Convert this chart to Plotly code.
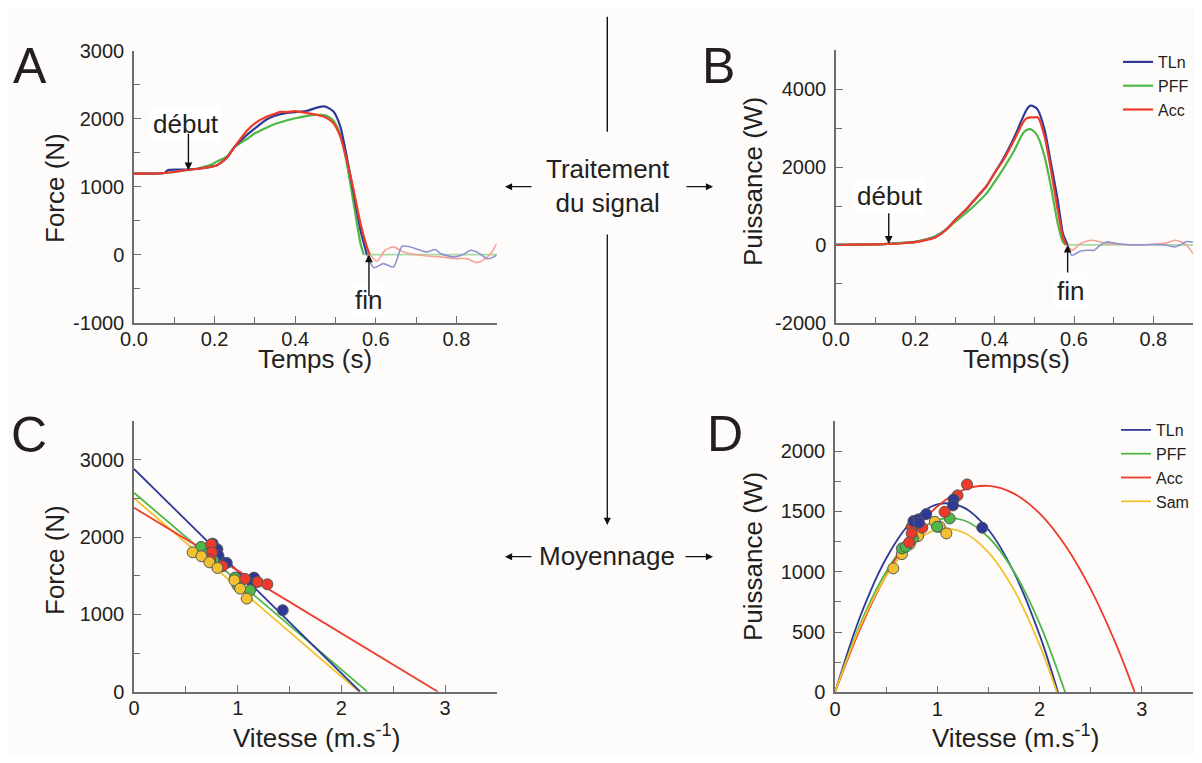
import plotly.graph_objects as go

# The page body adds an 8 px margin on every side; keep the figure inside the window.
OFF = 8
W, H = 1202 - 2 * OFF, 763 - 2 * OFF
FONT = "Liberation Sans, Arial, sans-serif"
TXT = "#231f20"
AXC = "#6d6e71"

C_TLN = "#2e3a96"
C_PFF = "#4fb847"
C_ACC = "#ee3a2a"
C_SAM = "#f4c12e"
F_TLN = "#8f93d2"
F_PFF = "#a8dba2"
F_ACC = "#f6a297"

# ---------------- Panel A : Force vs time ----------------
A_t_tln = [0.0, 0.05, 0.075, 0.085, 0.12, 0.135, 0.16, 0.19, 0.205, 0.23, 0.25, 0.28, 0.3, 0.33, 0.35, 0.38, 0.4, 0.43,
           0.454, 0.475, 0.495, 0.512, 0.528, 0.545, 0.562, 0.578]
A_f_tln = [1190, 1192, 1200, 1245, 1250, 1250, 1262, 1290, 1310, 1420, 1587, 1760, 1857, 1990, 2044, 2085, 2095, 2115,
           2162, 2177, 2103, 1882, 1440, 900, 359, 0]
A_t_pff = [0.0, 0.05, 0.1, 0.135, 0.16, 0.19, 0.205, 0.23, 0.25, 0.28, 0.3, 0.33, 0.35, 0.38, 0.4, 0.43, 0.454, 0.475,
           0.495, 0.512, 0.528, 0.545, 0.562, 0.57]
A_f_pff = [1190, 1192, 1215, 1245, 1270, 1320, 1366, 1440, 1587, 1700, 1784, 1870, 1921, 1975, 2005, 2040, 2054, 2050,
           1970, 1759, 1341, 752, 162, 0]
A_t_acc = [0.0, 0.05, 0.1, 0.135, 0.16, 0.19, 0.205, 0.23, 0.25, 0.28, 0.3, 0.33, 0.35, 0.363, 0.38, 0.4, 0.43, 0.454,
           0.475, 0.495, 0.512, 0.528, 0.545, 0.562, 0.578, 0.585]
A_f_acc = [1190, 1192, 1215, 1248, 1262, 1290, 1310, 1420, 1587, 1820, 1931, 2030, 2070, 2100, 2095, 2110, 2080, 2054,
           2020, 1931, 1735, 1390, 948, 457, 113, 0]
A_t_tln_f = [0.578, 0.595, 0.619, 0.644, 0.665, 0.686, 0.710, 0.727, 0.748, 0.760, 0.793, 0.818, 0.835, 0.851, 0.876,
             0.893, 0.9]
A_f_tln_f = [0, -192, -133, -182, 123, 113, 64, 39, 74, 15, -34, 5, 64, 39, -59, -34, 0]
A_t_acc_f = [0.585, 0.603, 0.623, 0.644, 0.669, 0.694, 0.727, 0.760, 0.801, 0.826, 0.851, 0.872, 0.888, 0.9]
A_f_acc_f = [0, -98, 64, 113, 39, 5, -20, -34, -59, -59, -118, -59, 39, 162]
A_t_pff_f = [0.57, 0.9]
A_f_pff_f = [0, 0]
A_yticks = [-1000, 0, 1000, 2000, 3000]
A_yticklabels = ["-1000", "0", "1000", "2000", "3000"]

# ---------------- Panel B : Power vs time ----------------
B_t_tln = [0.0, 0.1, 0.133, 0.17, 0.2, 0.23, 0.25, 0.28, 0.3, 0.33, 0.35, 0.38, 0.4, 0.42, 0.45, 0.47, 0.48, 0.49, 0.5,
           0.509, 0.526, 0.542, 0.559, 0.572, 0.584]
B_p_tln = [0, 15, 30, 50, 80, 150, 215, 420, 635, 930, 1167, 1520, 1854, 2180, 2781, 3253, 3468, 3580, 3550, 3468,
           2953, 2094, 1150, 292, 0]
B_t_pff = [0.0, 0.1, 0.133, 0.17, 0.2, 0.23, 0.25, 0.28, 0.3, 0.33, 0.35, 0.38, 0.4, 0.42, 0.45, 0.47, 0.48, 0.49, 0.5,
           0.509, 0.526, 0.542, 0.559, 0.572, 0.58]
B_p_pff = [0, 15, 30, 50, 80, 150, 206, 410, 592, 840, 1021, 1330, 1622, 1930, 2438, 2850, 2953, 2975, 2910, 2781,
           2266, 1494, 549, 77, 0]
B_t_acc = [0.0, 0.1, 0.133, 0.17, 0.2, 0.23, 0.25, 0.28, 0.3, 0.33, 0.35, 0.38, 0.4, 0.42, 0.45, 0.47, 0.48, 0.49, 0.5,
           0.509, 0.526, 0.542, 0.559, 0.572, 0.58]
B_p_acc = [0, 12, 25, 42, 70, 130, 190, 410, 635, 930, 1167, 1520, 1854, 2150, 2712, 3124, 3253, 3280, 3279, 3279,
           2781, 1923, 893, 206, 0]
B_t_tln_f = [0.584, 0.594, 0.605, 0.617, 0.634, 0.651, 0.667, 0.684, 0.7, 0.725, 0.759, 0.8, 0.834, 0.854, 0.871,
             0.884, 0.9]
B_p_tln_f = [0, -266, -223, -155, -137, -137, 0, 77, 52, 15, 0, 9, -9, -52, 15, 86, 69]
B_t_acc_f = [0.58, 0.597, 0.613, 0.626, 0.642, 0.659, 0.676, 0.709, 0.759, 0.8, 0.834, 0.854, 0.871, 0.884, 0.9]
B_p_acc_f = [0, -137, 15, 77, 120, 94, 52, 15, 0, 15, 52, 120, 77, -9, -223]
B_t_pff_f = [0.58, 0.9]
B_p_pff_f = [0, 0]
B_yticks = [-2000, 0, 2000, 4000]
B_yticklabels = ["-2000", "0", "2000", "4000"]

# ---------------- Panel C : Force vs velocity ----------------
C_line_v_tln = [0, 2.18]
C_line_f_tln = [2880, 0]
C_line_v_pff = [0, 2.25]
C_line_f_pff = [2572, 0]
C_line_v_acc = [0, 2.93]
C_line_f_acc = [2378, 0]
C_line_v_sam = [0, 2.17]
C_line_f_sam = [2503, 0]

C_pts_v_tln = [0.759, 0.804, 0.814, 0.894, 1.158, 1.145, 1.434]
C_pts_f_tln = [1914, 1841, 1759, 1665, 1475, 1398, 1054]
C_pts_v_acc = [0.743, 0.752, 0.733, 0.852, 1.071, 1.193, 1.286]
C_pts_f_acc = [1905, 1802, 1708, 1622, 1458, 1419, 1389]
C_pts_v_pff = [0.646, 0.701, 0.765, 0.974, 0.997, 1.119]
C_pts_f_pff = [1871, 1776, 1699, 1475, 1376, 1312]
C_pts_v_sam = [0.566, 0.650, 0.727, 0.804, 0.968, 1.023, 1.087]
C_pts_f_sam = [1802, 1751, 1673, 1600, 1441, 1333, 1204]

# ---------------- Panel D : Power vs velocity ----------------
D_v_tln = [0, 0.25, 0.5, 0.75, 1.0, 1.25, 1.5, 1.75, 2.0, 2.18]
D_p_tln = [0, 637, 1110, 1417, 1559, 1536, 1348, 994, 476, 0]
D_v_pff = [0, 0.25, 0.5, 0.75, 1.0, 1.25, 1.5, 1.75, 2.0, 2.25]
D_p_pff = [0, 572, 1000, 1286, 1429, 1429, 1286, 1001, 572, 0]
D_v_acc = [0, 0.25, 0.5, 0.75, 1.0, 1.25, 1.5, 1.75, 2.0, 2.25, 2.5, 2.75, 2.93]
D_p_acc = [0, 535, 970, 1306, 1541, 1677, 1712, 1648, 1484, 1220, 856, 393, 0]
D_v_sam = [0, 0.25, 0.5, 0.75, 1.0, 1.25, 1.5, 1.75, 2.0, 2.17]
D_p_sam = [0, 554, 964, 1228, 1350, 1327, 1161, 849, 394, 0]

D_pts_v_acc = [1.291, 1.198, 1.072, 0.750, 0.750, 0.853, 0.725]
D_pts_p_acc = [1724, 1633, 1497, 1373, 1318, 1365, 1243]
D_pts_v_tln = [0.767, 0.815, 0.821, 0.892, 1.159, 1.153, 1.440]
D_pts_p_tln = [1420, 1434, 1406, 1478, 1599, 1550, 1365]
D_pts_v_pff = [0.654, 0.692, 0.763, 0.998, 1.121]
D_pts_p_pff = [1193, 1207, 1276, 1373, 1442]
D_pts_v_sam = [0.570, 0.654, 0.731, 0.812, 0.976, 1.024, 1.089]
D_pts_p_sam = [1028, 1146, 1229, 1296, 1414, 1373, 1318]


def px(x):
    return min(max((x - OFF) / W, 0.0), 1.0)


def py(y):
    return min(max(1 - (y - OFF) / H, 0.0), 1.0)


fig = go.Figure()


def line(x, y, color, xa, ya, width=2.2, name=None, legend=None, show=False, smooth=0.6):
    fig.add_trace(go.Scatter(x=x, y=y, mode="lines", xaxis=xa, yaxis=ya,
                             line=dict(color=color, width=width, shape="spline", smoothing=smooth),
                             name=name, showlegend=show, legend=legend, hoverinfo="skip"))


def pts(x, y, color, xa, ya):
    fig.add_trace(go.Scatter(x=x, y=y, mode="markers", xaxis=xa, yaxis=ya, showlegend=False,
                             marker=dict(color=color, size=11, line=dict(color="#555555", width=1)),
                             hoverinfo="skip"))


# Panel A
line(A_t_pff_f, A_f_pff_f, F_PFF, "x", "y", 1.6)
line(A_t_acc_f, A_f_acc_f, F_ACC, "x", "y", 1.6)
line(A_t_tln_f, A_f_tln_f, F_TLN, "x", "y", 1.6)
line(A_t_pff, A_f_pff, C_PFF, "x", "y")
line(A_t_tln, A_f_tln, C_TLN, "x", "y")
line(A_t_acc, A_f_acc, C_ACC, "x", "y")

# Panel B
line(B_t_pff_f, B_p_pff_f, F_PFF, "x2", "y2", 1.6)
line(B_t_acc_f, B_p_acc_f, F_ACC, "x2", "y2", 1.6)
line(B_t_tln_f, B_p_tln_f, F_TLN, "x2", "y2", 1.6)
line(B_t_tln, B_p_tln, C_TLN, "x2", "y2", name="TLn", legend="legend", show=True)
line(B_t_pff, B_p_pff, C_PFF, "x2", "y2", name="PFF", legend="legend", show=True)
line(B_t_acc, B_p_acc, C_ACC, "x2", "y2", name="Acc", legend="legend", show=True)

# Panel C
for lv, lf, c in [(C_line_v_sam, C_line_f_sam, C_SAM), (C_line_v_pff, C_line_f_pff, C_PFF),
                  (C_line_v_tln, C_line_f_tln, C_TLN), (C_line_v_acc, C_line_f_acc, C_ACC)]:
    fig.add_trace(go.Scatter(x=lv, y=lf, mode="lines", xaxis="x3", yaxis="y3", showlegend=False,
                             line=dict(color=c, width=1.8), hoverinfo="skip"))
pts(C_pts_v_tln, C_pts_f_tln, C_TLN, "x3", "y3")
pts(C_pts_v_pff, C_pts_f_pff, C_PFF, "x3", "y3")
pts(C_pts_v_acc, C_pts_f_acc, C_ACC, "x3", "y3")
pts(C_pts_v_sam, C_pts_f_sam, C_SAM, "x3", "y3")

# Panel D
line(D_v_tln, D_p_tln, C_TLN, "x4", "y4", 1.8, name="TLn", legend="legend2", show=True, smooth=1.0)
line(D_v_pff, D_p_pff, C_PFF, "x4", "y4", 1.8, name="PFF", legend="legend2", show=True, smooth=1.0)
line(D_v_acc, D_p_acc, C_ACC, "x4", "y4", 1.8, name="Acc", legend="legend2", show=True, smooth=1.0)
line(D_v_sam, D_p_sam, C_SAM, "x4", "y4", 1.8, name="Sam", legend="legend2", show=True, smooth=1.0)
pts(D_pts_v_sam, D_pts_p_sam, C_SAM, "x4", "y4")
pts(D_pts_v_pff, D_pts_p_pff, C_PFF, "x4", "y4")
pts(D_pts_v_acc, D_pts_p_acc, C_ACC, "x4", "y4")
pts(D_pts_v_tln, D_pts_p_tln, C_TLN, "x4", "y4")


def ax(domain, rng, dtick, minor, anchor, fmt=None, standoff=4, tv=None, tt=None):
    d = dict(domain=domain, range=rng, dtick=dtick, tick0=0, anchor=anchor, automargin=False,
             showgrid=False, zeroline=False, showline=True, linecolor=AXC, linewidth=1.5,
             ticks="inside", ticklen=7, tickcolor=AXC, tickwidth=1.3,
             tickfont=dict(family=FONT, size=20, color=TXT), ticklabelstandoff=standoff,
             minor=dict(dtick=minor, tick0=0, ticks="inside", ticklen=6, tickcolor=AXC, tickwidth=1.2,
                        showgrid=False),
             fixedrange=True)
    if fmt:
        d["tickformat"] = fmt
    if tv is not None:
        d["tickmode"] = "array"
        d["tickvals"] = tv
        d["ticktext"] = tt
    return d


xA = [px(134), px(496.7)]
yA = [py(322.6), py(50.6)]
xB = [px(836), px(1193)]
yB = [py(322.7), py(50.4)]
xC = [px(134), px(497)]
yC = [py(691.7), py(421)]
xD = [px(835), px(1193)]
yD = [py(692.3), py(421)]

fig.update_layout(
    width=W, height=H,
    margin=dict(l=0, r=0, t=0, b=0, pad=0, autoexpand=False),
    paper_bgcolor="#fdfcfb", plot_bgcolor="rgba(0,0,0,0)",
    font=dict(family=FONT, color=TXT),
    xaxis=ax(xA, [0, 0.9], 0.2, 0.1, "y", ".1f", -2),
    yaxis=ax(yA, [-1000, 3000], 1000, 500, "x", tv=A_yticks, tt=A_yticklabels),
    xaxis2=ax(xB, [0, 0.9], 0.2, 0.1, "y2", ".1f", -2),
    yaxis2=ax(yB, [-2000, 5000], 2000, 1000, "x2", tv=B_yticks, tt=B_yticklabels),
    xaxis3=ax(xC, [0, 3.5], 1, 0.5, "y3", None, -2),
    yaxis3=ax(yC, [0, 3500], 1000, 500, "x3"),
    xaxis4=ax(xD, [0, 3.5], 1, 0.5, "y4", None, -2),
    yaxis4=ax(yD, [0, 2250], 500, 250, "x4"),
    legend=dict(x=1.0, y=py(45), xanchor="right", yanchor="top", bgcolor="rgba(0,0,0,0)",
                font=dict(family=FONT, size=16, color=TXT), tracegroupgap=0, itemwidth=30),
    legend2=dict(x=1.0, y=py(413), xanchor="right", yanchor="top", bgcolor="rgba(0,0,0,0)",
                 font=dict(family=FONT, size=16, color=TXT), tracegroupgap=0, itemwidth=30),
    showlegend=True,
)

ann = []


def text(x, y, s, size=26, rot=0, bg=None):
    d = dict(x=px(x), y=py(y), xref="paper", yref="paper", text=s, showarrow=False,
             font=dict(family=FONT, size=size, color=TXT), textangle=rot,
             xanchor="center", yanchor="middle")
    if bg:
        d["bgcolor"] = bg
        d["borderpad"] = 2
    ann.append(d)


def arrow_data(x, y, xr, yr, axp, ayp):
    ann.append(dict(x=x, y=y, xref=xr, yref=yr, ax=axp, ay=ayp, text="", showarrow=True,
                    arrowhead=2, arrowsize=1.1, arrowwidth=1.4, arrowcolor="#111111", standoff=0,
                    startstandoff=0))


def arrow_paper(xt, yt, xs, ys):
    ann.append(dict(x=px(xt), y=py(yt), xref="paper", yref="paper", ax=xs - xt, ay=ys - yt,
                    text="", showarrow=True, arrowhead=2, arrowsize=1.1, arrowwidth=1.3,
                    arrowcolor="#111111", standoff=0, startstandoff=0))


# Panel letters
text(30, 66, "A", 50)
text(718, 66, "B", 50)
text(29, 435, "C", 50)
text(725, 434, "D", 50)

# Axis titles
text(55, 188, "Force (N)", 26, -90)
text(315, 359, "Temps (s)", 26)
text(753, 182, "Puissance (W)", 26, -90)
text(1016, 359, "Temps(s)", 26)
text(55, 560, "Force (N)", 26, -90)
text(316, 736, "Vitesse (m.s<sup>-1</sup>)", 26)
text(753, 557, "Puissance (W)", 26, -90)
text(1015, 736, "Vitesse (m.s<sup>-1</sup>)", 26)

# début / fin markers
text(186, 124, "début", 26, bg="#ffffff")
arrow_data(0.135, 1240, "x", "y", 0, -38)
text(368, 300, "fin", 26, bg="#ffffff")
arrow_data(0.583, 0, "x", "y", 0, 43)
text(890, 196, "début", 26, bg="#ffffff")
arrow_data(0.133, 30, "x2", "y2", 0, -32)
text(1070, 291, "fin", 26, bg="#ffffff")
arrow_data(0.584, 0, "x2", "y2", 0, 29)

# Centre workflow
text(608, 186, "Traitement<br>du signal", 26)
arrow_paper(505, 186.7, 533, 186.7)
arrow_paper(713, 186.7, 685, 186.7)
arrow_paper(607.3, 525, 607.3, 233)
text(607, 556, "Moyennage", 26)
arrow_paper(505, 556.7, 533, 556.7)
arrow_paper(713, 556.7, 684, 556.7)

fig.update_layout(annotations=ann,
                  shapes=[dict(type="line", xref="paper", yref="paper", x0=px(607.3), x1=px(607.3),
                               y0=py(16.7), y1=py(131.7), line=dict(color="#111111", width=1.4))])

fig.write_html("out.html")
